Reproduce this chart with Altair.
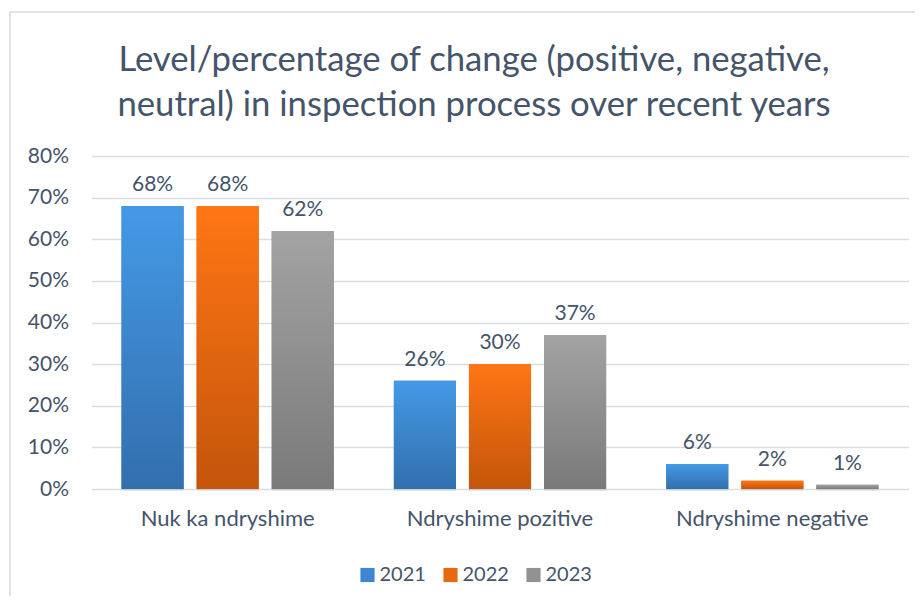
import altair as alt
import pandas as pd

categories = ["Nuk ka ndryshime", "Ndryshime pozitive", "Ndryshime negative"]
years = ["2021", "2022", "2023"]
values_2021 = [0.68, 0.26, 0.06]
values_2022 = [0.68, 0.30, 0.02]
values_2023 = [0.62, 0.37, 0.01]
y_ticks = [0, 0.1, 0.2, 0.3, 0.4, 0.5, 0.6, 0.7, 0.8]
title_lines = ["Level/percentage of change (positive, negative,",
               "neutral) in inspection process over recent years"]

series = {"2021": values_2021, "2022": values_2022, "2023": values_2023}
rows = []
for yr in years:
    for cat, v in zip(categories, series[yr]):
        rows.append({"category": cat, "year": yr, "value": v})
df = pd.DataFrame(rows)

FONT = "Lato"
TXT = "#44546A"
solid_colors = ["#3d86d2", "#e6680f", "#919191"]
grad_stops = {
    "2021": ("#4499e6", "#326fad"),
    "2022": ("#ff7614", "#c4550b"),
    "2023": ("#a3a3a3", "#7a7a7a"),
}

x_enc = alt.X("category:N", sort=categories,
              scale=alt.Scale(paddingInner=0, paddingOuter=0),
              axis=alt.Axis(title=None, labelAngle=0, ticks=False, tickSize=0,
                            domain=False, labelPadding=19, labelFontSize=22,
                            labelLimit=400,
                            labelFont=FONT, labelColor=TXT, grid=False))
xo_enc = alt.XOffset("year:N", scale=alt.Scale(domain=years, paddingInner=0.173,
                                                paddingOuter=0.40))
y_enc = alt.Y("value:Q", scale=alt.Scale(domain=[0, 0.8], nice=False),
              axis=alt.Axis(title=None, values=y_ticks, format=".0%",
                            grid=True, gridColor="#d9dde3", gridWidth=1.3,
                            domain=False, ticks=False, tickSize=0,
                            labelPadding=23, labelFontSize=21, labelFont=FONT,
                            labelColor=TXT))

base = alt.Chart(df)

shadow = base.mark_bar(color="#000000", opacity=0.07, xOffset=1.5, yOffset=2).encode(
    x=x_enc, xOffset=xo_enc, y=y_enc)

solid = base.mark_bar().encode(
    x=x_enc, xOffset=xo_enc, y=y_enc,
    color=alt.Color("year:N", scale=alt.Scale(domain=years, range=solid_colors),
                    legend=alt.Legend(title=None, orient="none", direction="horizontal",
                                      legendX=266, legendY=409, symbolType="square",
                                      symbolSize=200, symbolStrokeWidth=0,
                                      labelFontSize=20, labelFont=FONT,
                                      labelColor=TXT, columnPadding=14,
                                      labelOffset=2)))

grad_layers = []
for yr in years:
    top, bottom = grad_stops[yr]
    g = alt.Gradient(gradient="linear",
                     stops=[alt.GradientStop(color=top, offset=0),
                            alt.GradientStop(color=bottom, offset=1)],
                     x1=0, x2=0, y1=0, y2=1)
    grad_layers.append(
        base.transform_filter(alt.datum.year == yr)
        .mark_bar(color=g)
        .encode(x=x_enc, xOffset=xo_enc, y=y_enc)
    )

labels = base.mark_text(dy=-15, baseline="alphabetic", fontSize=21, font=FONT,
                        color=TXT).encode(
    x=x_enc, xOffset=xo_enc, y=y_enc,
    text=alt.Text("value:Q", format=".0%"))

frame = alt.Chart(alt.Data(values=[{"f": 1}])).mark_rect(
    filled=False, stroke="#d9d9d9", strokeWidth=1.5).encode(
    x=alt.value(-81.5), x2=alt.value(1200), y=alt.value(-144), y2=alt.value(1200))

chart = alt.layer(frame, shadow, solid, *grad_layers, labels).properties(
    width=817, height=333,
    padding={"left": 83.5, "top": 148, "right": 6.5, "bottom": 107},
    autosize=alt.AutoSizeParams(type="none"),
    title=alt.TitleParams(text=title_lines, fontSize=34.7, font=FONT,
                          fontWeight="normal", color=TXT, anchor="middle",
                          baseline="top", dx=-26, lineHeight=45, offset=-112),
).configure_view(stroke=None)

chart.save("out.html", embed_options={"renderer": "svg", "actions": False})
